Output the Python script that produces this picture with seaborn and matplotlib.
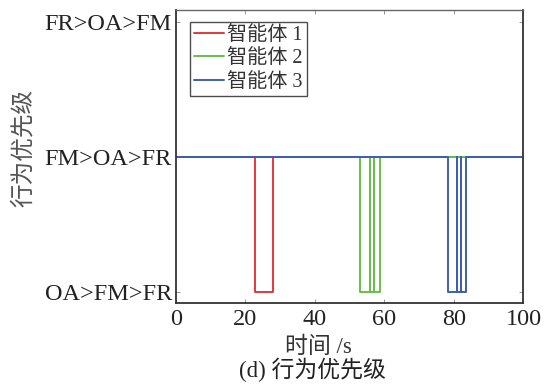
import numpy as np
import pandas as pd
import matplotlib
matplotlib.use("Agg")
import matplotlib.pyplot as plt
import seaborn as sns

# Behaviour-priority levels (y tick labels, bottom to top)
levels = ["OA>FM>FR", "FM>OA>FR", "FR>OA>FM"]
agents = ["智能体 1", "智能体 2", "智能体 3"]

# Switching sequences of each agent: time (s) and priority level index
t1 = [0, 22.8, 22.8, 27.9, 27.9, 100]
y1 = [1, 1, 0, 0, 1, 1]
t2 = [0, 53.0, 53.0, 55.7, 55.7, 55.7, 57.1, 57.1, 57.1, 58.6, 58.6, 100]
y2 = [1, 1, 0, 0, 1, 0, 0, 1, 0, 0, 1, 1]
t3 = [0, 78.2, 78.2, 80.9, 80.9, 80.9, 82.1, 82.1, 82.1, 83.6, 83.6, 100]
y3 = [1, 1, 0, 0, 1, 0, 0, 1, 0, 0, 1, 1]

colors = ["#e8353c", "#66c04a", "#3c5fb4"]

sns.set_style("ticks")
plt.rcParams["font.family"] = ["Liberation Serif", "Noto Sans CJK SC"]
plt.rcParams["xtick.direction"] = "in"
plt.rcParams["ytick.direction"] = "in"

frames = []
for name, t, y in zip(agents, [t1, t2, t3], [y1, y2, y3]):
    frames.append(pd.DataFrame({"time": t, "level": y, "agent": name}))
df = pd.concat(frames, ignore_index=True)

fig = plt.figure(figsize=(5.51, 3.85), dpi=100)
ax = fig.add_axes([0.3194, 0.213, 0.6306, 0.761])

sns.lineplot(data=df, x="time", y="level", hue="agent", palette=colors,
             sort=False, estimator=None, linewidth=1.4, ax=ax)

ax.set_xlim(0, 100)
ax.set_ylim(-0.08, 2.09)
ax.set_xticks([0, 20, 40, 60, 80, 100])
ax.set_yticks([0, 1, 2])
ax.set_yticklabels(levels)
ax.tick_params(axis="both", labelsize=17.5, colors="#888888", labelcolor="#222222",
               length=3, width=0.6, top=True, right=True, pad=4)
ax.tick_params(axis="y", pad=3)

for side in ["left", "bottom", "right"]:
    ax.spines[side].set_color("#333333")
    ax.spines[side].set_linewidth(1.3)
ax.spines["top"].set_color("#666666")
ax.spines["top"].set_linewidth(1.0)

ax.set_xlabel("时间 /s", fontsize=16.5, color="#333333")
ax.xaxis.set_label_coords(0.41, -0.115)
ax.set_ylabel("")
fig.text(0.042, 0.615, "行为优先级", rotation=90, fontsize=17, color="#555555",
         ha="center", va="center")
fig.text(0.567, 0.04, "(d) 行为优先级", fontsize=16.5, color="#222222",
         ha="center", va="center")

leg = ax.legend(loc="upper left", bbox_to_anchor=(0.04, 0.96), fontsize=14.5,
                frameon=True, fancybox=False, edgecolor="#222222",
                handlelength=1.5, handletextpad=0.15, borderpad=0.2,
                labelspacing=0.22, borderaxespad=0)
leg.get_frame().set_linewidth(1.0)
for line in leg.get_lines():
    line.set_linewidth(1.4)
for txt in leg.get_texts():
    txt.set_color("#333333")

fig.savefig("out.png", dpi=100)
